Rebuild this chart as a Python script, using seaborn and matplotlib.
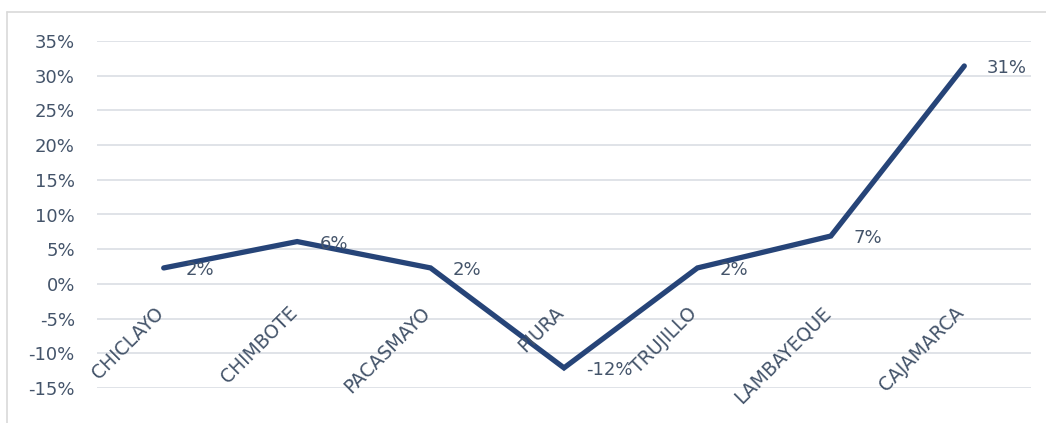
import matplotlib.pyplot as plt
import pandas as pd
import seaborn as sns
from matplotlib.lines import Line2D
from matplotlib.ticker import PercentFormatter

# Data
cities = ["CHICLAYO", "CHIMBOTE", "PACASMAYO", "PIURA", "TRUJILLO", "LAMBAYEQUE", "CAJAMARCA"]
growth = [0.023, 0.061, 0.023, -0.121, 0.023, 0.069, 0.314]
labels = ["2%", "6%", "2%", "-12%", "2%", "7%", "31%"]

df = pd.DataFrame({"city": cities, "growth": growth})

text_color = "#44546A"
line_color = "#264478"
grid_color = "#DDE1E6"

sns.set_style("white")
plt.rcParams["font.family"] = ["DejaVu Sans"]
plt.rcParams["axes.unicode_minus"] = False

fig = plt.figure(figsize=(10.46, 4.23), dpi=100)
ax = fig.add_axes([97 / 1046, 1 - 388 / 423, 934 / 1046, 347 / 423])

sns.lineplot(data=df, x="city", y="growth", color=line_color, linewidth=3.8,
             solid_capstyle="round", solid_joinstyle="miter", ax=ax, sort=False)

ax.set_xlim(-0.5, len(cities) - 0.5)
ax.set_ylim(-0.15, 0.35)
ax.set_yticks([i / 100 for i in range(-15, 36, 5)])
ax.yaxis.set_major_formatter(PercentFormatter(1.0, decimals=0))
ax.grid(axis="y", color=grid_color, linewidth=1.3)
ax.set_axisbelow(True)
for s in ax.spines.values():
    s.set_visible(False)
ax.tick_params(axis="y", length=0, pad=16, labelsize=13, labelcolor=text_color)
ax.set_xticks([])
ax.set_xlabel("")
ax.set_ylabel("")

# category labels sitting just below the 0% line
for i, name in enumerate(cities):
    ax.annotate(name, xy=(i, 0), xytext=(-7, -14), textcoords="offset points",
                rotation=45, ha="right", va="top", rotation_mode="anchor",
                fontsize=13.5, color=text_color)

# data labels to the right of each point
for i, (v, lab) in enumerate(zip(growth, labels)):
    ax.annotate(lab, xy=(i, v), xytext=(16, -1.5), textcoords="offset points",
                ha="left", va="center", fontsize=13, color=text_color)

# chart frame (cut at right/bottom)
fig.add_artist(Line2D([7 / 1046, 7 / 1046], [0, 1 - 12 / 423], transform=fig.transFigure,
                      color="#D9D9D9", linewidth=1.2))
fig.add_artist(Line2D([7 / 1046, 1], [1 - 12 / 423, 1 - 12 / 423], transform=fig.transFigure,
                      color="#D9D9D9", linewidth=1.2))

fig.savefig("out.png", dpi=100)
